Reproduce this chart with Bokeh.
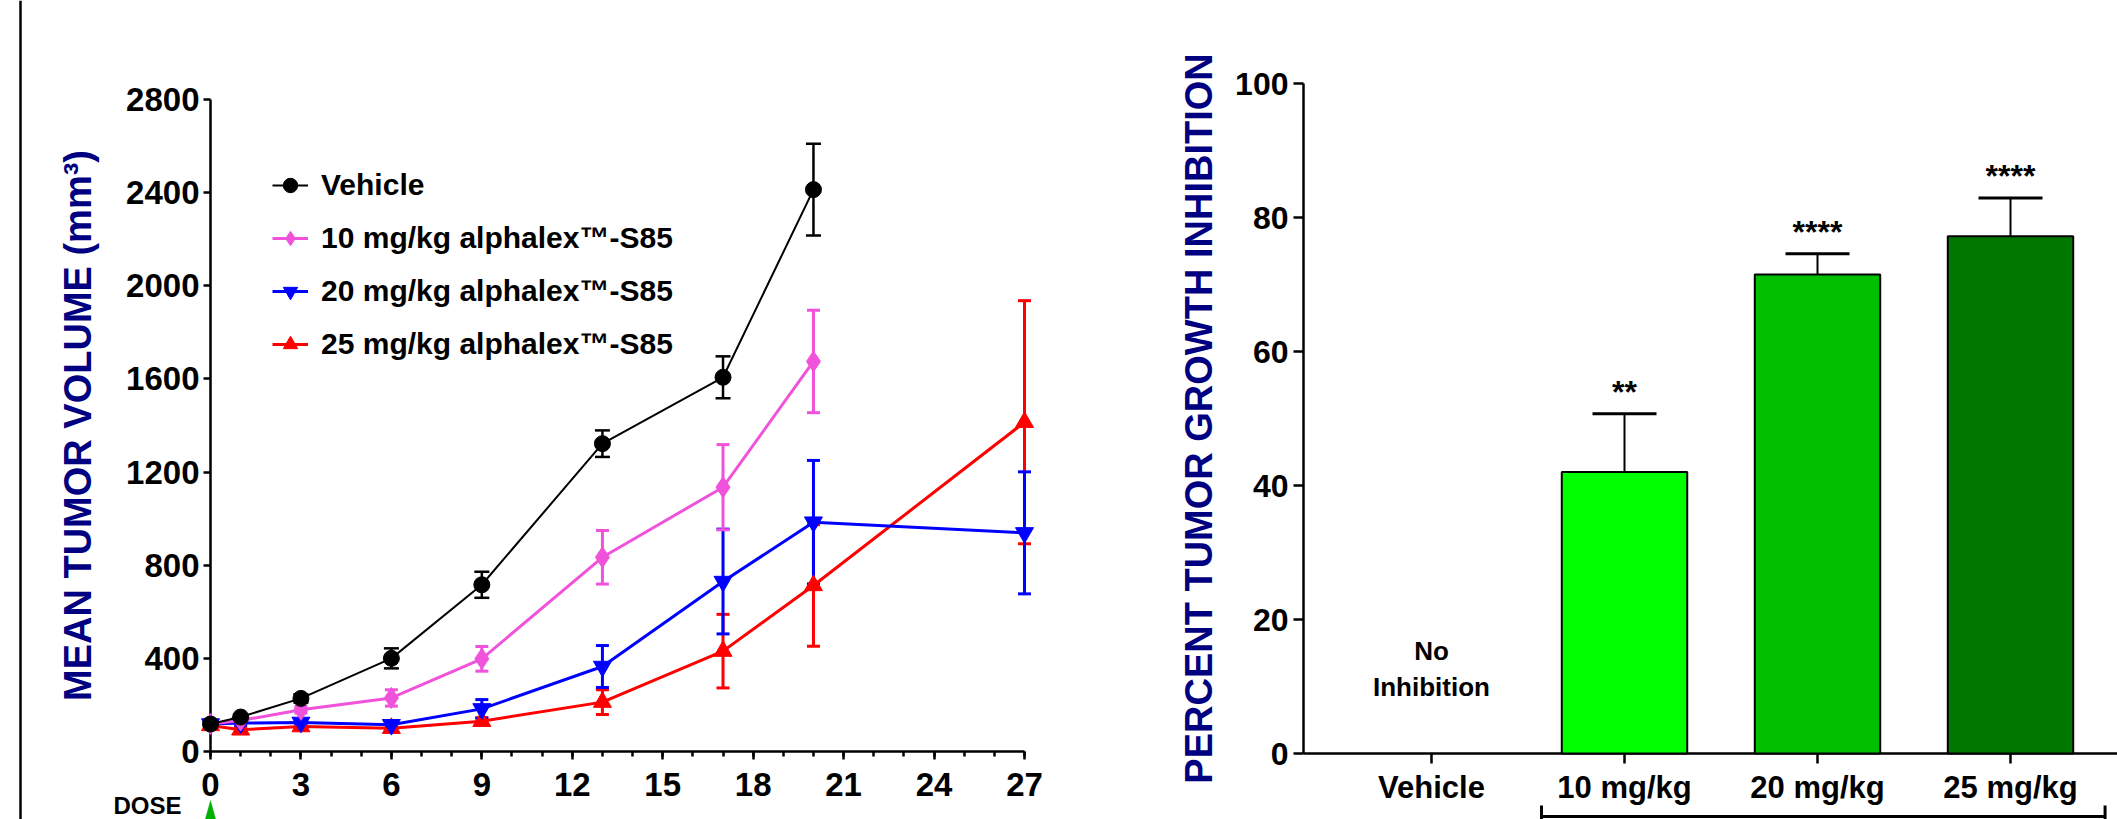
from bokeh.plotting import figure
from bokeh.layouts import row
from bokeh.models import (ColumnDataSource, Whisker, TeeHead, Label, Legend, LegendItem,
                          FixedTicker, PolyAnnotation, Range1d, Span)
from bokeh.core.properties import value
from bokeh.embed import file_html
from bokeh.resources import INLINE

FONT = "Liberation Sans"
NAVY = "#000080"

# ---------------- data: tumor volume over time ----------------
days_vehicle = [0, 1, 3, 6, 9, 13, 17, 20]
mean_vehicle = [118, 148, 228, 400, 716, 1322, 1607, 2413]
sem_vehicle = [10, 12, 18, 43, 56, 57, 90, 197]

days_10 = [0, 1, 3, 6, 9, 13, 17, 20]
mean_10 = [118, 133, 179, 230, 398, 834, 1135, 1675]
sem_10 = [8, 10, 14, 35, 53, 115, 183, 220]

days_20 = [0, 1, 3, 6, 9, 13, 17, 20, 27]
mean_20 = [118, 122, 125, 115, 183, 365, 730, 985, 939]
sem_20 = [8, 8, 8, 8, 40, 90, 225, 265, 262]

days_25 = [0, 1, 3, 6, 9, 13, 17, 20, 27]
mean_25 = [112, 93, 107, 100, 130, 212, 431, 713, 1414]
sem_25 = [8, 10, 10, 10, 15, 53, 158, 261, 522]

series_labels = ["Vehicle", "10 mg/kg alphalex\u2122-S85",
                 "20 mg/kg alphalex\u2122-S85", "25 mg/kg alphalex\u2122-S85"]

x_ticks = [0, 3, 6, 9, 12, 15, 18, 21, 24, 27]
x_minor = list(range(0, 28))
y_ticks = [0, 400, 800, 1200, 1600, 2000, 2400, 2800]

# ---------------- data: percent tumor growth inhibition ----------------
categories = ["Vehicle", "10 mg/kg", "20 mg/kg", "25 mg/kg"]
bar_categories = ["10 mg/kg", "20 mg/kg", "25 mg/kg"]
tgi = [42.0, 71.5, 77.2]
tgi_err = [8.7, 3.1, 5.7]
significance = ["**", "****", "****"]
bar_colors = ["#00FF00", "#00C000", "#007800"]
tgi_ticks = [0, 20, 40, 60, 80, 100]

# ---------------- layout (pixels) ----------------
L_W, R_W, H = 1150, 967, 819
# left panel: axis origin and scale
L_X0, L_DX = 210, 814 / 27          # px of day 0, px per day
L_Y0, L_DY = 751, 652 / 2800        # px of volume 0, px per mm3
# right panel
R_X0, R_DX = 1431 - 1150, 193       # px of first category, px per category
R_Y0, R_DY = 753, 670 / 100
R_AXIS_X = (1303 - 1431) / 193      # y-axis location in category units


def style_axis(ax, size):
    ax.axis_line_width = 2.5
    ax.axis_line_color = "black"
    ax.major_tick_line_width = 2.5
    ax.minor_tick_line_width = 2.5
    ax.major_tick_in = 0
    ax.minor_tick_in = 0
    ax.major_label_text_font = FONT
    ax.major_label_text_font_style = "bold"
    ax.major_label_text_font_size = size
    ax.major_label_text_color = "black"
    ax.axis_label_text_font = FONT
    ax.axis_label_text_font_style = "bold"
    ax.axis_label_text_font_size = "38px"
    ax.axis_label_text_color = NAVY
    ax.level = "underlay"


# ================= left figure =================
left = figure(width=L_W, height=H,
              x_range=Range1d(-L_X0 / L_DX, (L_W - L_X0) / L_DX),
              y_range=Range1d(-(H - L_Y0) / L_DY, L_Y0 / L_DY),
              output_backend="svg", toolbar_location=None, min_border=0)
left.title.visible = False
left.outline_line_color = None
left.grid.visible = False
left.background_fill_color = "white"

style_axis(left.xaxis[0], "33px")
style_axis(left.yaxis[0], "33px")
left.xaxis.ticker = FixedTicker(ticks=x_ticks, minor_ticks=x_minor)
left.xaxis.bounds = (x_ticks[0], x_ticks[-1])
left.xaxis.fixed_location = y_ticks[0]
left.xaxis.major_tick_out = 8
left.xaxis.minor_tick_out = 5
left.xaxis.major_label_standoff = 13
left.yaxis.ticker = FixedTicker(ticks=y_ticks)
left.yaxis.bounds = (y_ticks[0], y_ticks[-1])
left.yaxis.fixed_location = x_ticks[0]
left.yaxis.minor_tick_line_color = None
left.yaxis.major_tick_out = 7
left.yaxis.major_label_standoff = 4
left.yaxis.axis_label = "MEAN TUMOR VOLUME (mm\u00b3)"
left.yaxis.axis_label_standoff = 24

series = [
    (days_25, mean_25, sem_25, "#FF0000", "triangle", 18, 3, 3, 13, series_labels[3]),
    (days_20, mean_20, sem_20, "#0000FF", "inverted_triangle", 18, 3, 3, 13, series_labels[2]),
    (days_10, mean_10, sem_10, "#F052DC", "diamond", 21, 3, 3, 13, series_labels[1]),
    (days_vehicle, mean_vehicle, sem_vehicle, "#000000", "circle", 16, 2, 2.5, 15, series_labels[0]),
]
items = {}
for d, m, s, c, mk, sz, lw, ew, cap, lab in series:
    src = ColumnDataSource(dict(x=d, y=m, upper=[a + b for a, b in zip(m, s)],
                                lower=[a - b for a, b in zip(m, s)]))
    left.add_layout(Whisker(source=src, base="x", upper="upper", lower="lower",
                            dimension="height", line_color=c, line_width=ew,
                            upper_head=TeeHead(size=cap, line_color=c, line_width=ew),
                            lower_head=TeeHead(size=cap, line_color=c, line_width=ew)))
    lr = left.line("x", "y", source=src, line_color=c, line_width=lw)
    sr = left.scatter("x", "y", source=src, marker=mk, size=sz, fill_color=c, line_color=c)
    items[lab] = [lr, sr]

legend = Legend(items=[LegendItem(label=lab, renderers=items[lab]) for lab in series_labels],
                location=(272, 455), padding=0, margin=0, spacing=13,
                glyph_width=36, glyph_height=40, label_height=40, label_standoff=13,
                label_text_font=FONT, label_text_font_style="bold", label_text_font_size="30px",
                label_text_color="black", border_line_color=None, background_fill_alpha=0)
left.add_layout(legend)

# DOSE marker below the axis
left.add_layout(Label(x=0, y=-(H - 1 - L_Y0) / L_DY, text="DOSE", x_offset=-29,
                      text_align="right", text_baseline="bottom", text_font=FONT,
                      text_font_style="bold", text_font_size="24px", text_color="black"))
left.add_layout(PolyAnnotation(xs=[-0.28, 0, 0.28], ys=[-340, -210, -340],
                               fill_color="#00B000", fill_alpha=1, line_color="#00B000"))
# left border rule of the panel
left.add_layout(Span(location=(20 - L_X0) / L_DX, dimension="height",
                     line_color="black", line_width=2.5))

# ================= right figure =================
right = figure(width=R_W, height=H,
               x_range=Range1d(-R_X0 / R_DX, (R_W - R_X0) / R_DX),
               y_range=Range1d(-(H - R_Y0) / R_DY, R_Y0 / R_DY),
               output_backend="svg", toolbar_location=None, min_border=0)
right.title.visible = False
right.outline_line_color = None
right.grid.visible = False
style_axis(right.xaxis[0], "31px")
style_axis(right.yaxis[0], "32px")
right.xaxis.ticker = FixedTicker(ticks=list(range(len(categories))))
right.xaxis.major_label_overrides = {i: c for i, c in enumerate(categories)}
right.xaxis.bounds = (R_AXIS_X, (R_W - R_X0) / R_DX)
right.xaxis.fixed_location = tgi_ticks[0]
right.xaxis.major_tick_out = 10
right.xaxis.major_label_standoff = 6
right.xaxis.minor_tick_line_color = None
right.yaxis.ticker = FixedTicker(ticks=tgi_ticks)
right.yaxis.bounds = (tgi_ticks[0], tgi_ticks[-1])
right.yaxis.fixed_location = R_AXIS_X
right.yaxis.minor_tick_line_color = None
right.yaxis.major_tick_out = 10
right.yaxis.major_label_standoff = 5
right.yaxis.axis_label = "PERCENT TUMOR GROWTH INHIBITION"
right.yaxis.axis_label_standoff = 12

bar_x = [categories.index(c) for c in bar_categories]
bsrc = ColumnDataSource(dict(x=bar_x, top=tgi, color=bar_colors,
                             upper=[t + e for t, e in zip(tgi, tgi_err)],
                             sig=significance,
                             sig_y=[t + e + 3.3 for t, e in zip(tgi, tgi_err)]))
right.vbar(x="x", top="top", width=0.65, source=bsrc, fill_color="color",
           line_color="black", line_width=2)
right.add_layout(Whisker(source=bsrc, base="x", lower="top", upper="upper", dimension="height",
                         line_color="black", line_width=2, lower_head=None,
                         upper_head=TeeHead(size=64, line_color="black", line_width=3)))
right.text(x="x", y="sig_y", text="sig", source=bsrc, text_align="center",
           text_baseline="alphabetic", text_font=value(FONT), text_font_style="bold",
           text_font_size="32px", text_color="black")
right.text(x=[categories.index("Vehicle")], y=[12.6], text=["No\nInhibition"],
           text_align="center", text_baseline="middle", text_font=value(FONT),
           text_font_style="bold", text_font_size="26px", text_line_height=1.2,
           text_color="black")
# bracket grouping the treated doses
br_src = ColumnDataSource(dict(base=[-9.4], lower=[min(bar_x) - 0.43], upper=[max(bar_x) + 0.49]))
right.add_layout(Whisker(source=br_src, base="base", lower="lower", upper="upper",
                         dimension="width", line_color="black", line_width=3,
                         upper_head=TeeHead(size=22, line_color="black", line_width=3),
                         lower_head=TeeHead(size=22, line_color="black", line_width=3)))

p = row(left, right)
open("out.html", "w").write(file_html(p, INLINE))
